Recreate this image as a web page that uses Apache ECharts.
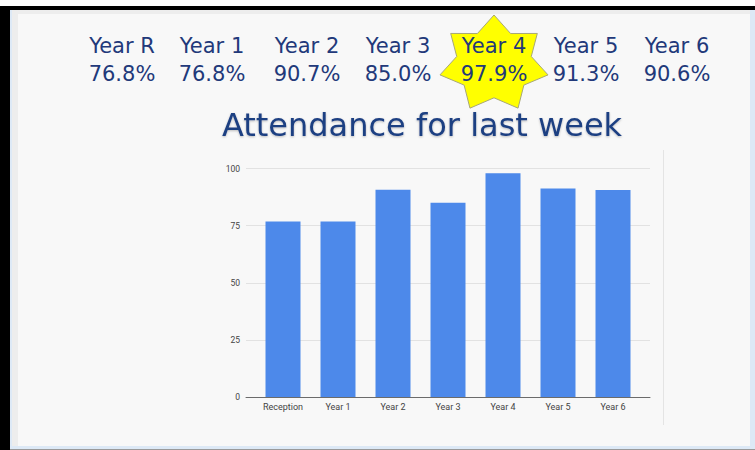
<!DOCTYPE html>
<html>
<head>
<meta charset="utf-8">
<style>
  html, body { margin: 0; padding: 0; background: #fff; }
  #chart-container { width: 755px; height: 450px; }
</style>
<script src="https://cdn.jsdelivr.net/npm/echarts@6/dist/echarts.min.js"></script>
</head>
<body>
<div id="chart-container"></div>
<script>
var categories = ["Reception", "Year 1", "Year 2", "Year 3", "Year 4", "Year 5", "Year 6"];
var headerNames = ["Year R", "Year 1", "Year 2", "Year 3", "Year 4", "Year 5", "Year 6"];
var attendance = [76.8, 76.8, 90.7, 85.0, 97.9, 91.3, 90.6];
var yTicks = [0, 25, 50, 75, 100];
var titleText = "Attendance for last week";

// header column centres across the slide
var headerX = [122, 212, 307, 398, 494, 586, 677];
var navy = "#22397a";
var headFont = '21px "DejaVu Sans"';

var dom = document.getElementById("chart-container");
var myChart = echarts.init(dom, null, { renderer: "svg" });

// 7-point star behind "Year 4"
function starPoints(cx, cy, rx, ry, inner) {
  var pts = [];
  for (var i = 0; i < 14; i++) {
    var a = -Math.PI / 2 + (i * Math.PI) / 7;
    var k = i % 2 === 0 ? 1 : inner;
    pts.push([cx + Math.cos(a) * rx * k, cy + Math.sin(a) * ry * k]);
  }
  return pts;
}

var graphics = [
  // slide frame
  { type: "rect", z: -20, shape: { x: 0, y: 6, width: 755, height: 444 }, style: { fill: "#000" } },
  { type: "rect", z: -19, shape: { x: 10, y: 10, width: 745, height: 440 }, style: { fill: "#dde9f6" } },
  { type: "rect", z: -18, shape: { x: 0, y: 449, width: 755, height: 1 }, style: { fill: "#9a9a9a" } },
  { type: "rect", z: -18, shape: { x: 0, y: 6, width: 10, height: 444 }, style: { fill: "#000" } },
  { type: "rect", z: -17, shape: { x: 12, y: 10, width: 738, height: 436 }, style: { fill: "#ededed" } },
  { type: "rect", z: -16, shape: { x: 18, y: 14, width: 732, height: 432 }, style: { fill: "#f8f8f8" } },
  // faint divider on the right of the chart
  { type: "rect", z: -15, shape: { x: 663, y: 150, width: 1, height: 275 }, style: { fill: "#e4e4e4" } },
  // star
  {
    type: "polygon", z: 5,
    shape: { points: starPoints(494, 64, 55.4, 49, 0.69) },
    style: { fill: "#ffff00", stroke: "#a8a878", lineWidth: 1 }
  },
  // title
  {
    type: "text", z: 10,
    style: {
      text: titleText, x: 422, y: 125, fill: "#1f3f82",
      font: '32px "DejaVu Sans"', textAlign: "center", textVerticalAlign: "middle",
      textShadowColor: "rgba(0,0,0,0.25)", textShadowBlur: 2, textShadowOffsetY: 1
    }
  }
];

headerNames.forEach(function (name, i) {
  graphics.push({
    type: "text", z: 10,
    style: { text: name, x: headerX[i], y: 46, fill: navy, font: headFont, textAlign: "center", textVerticalAlign: "middle" }
  });
  graphics.push({
    type: "text", z: 10,
    style: { text: attendance[i].toFixed(1) + "%", x: headerX[i], y: 74, fill: navy, font: headFont, textAlign: "center", textVerticalAlign: "middle" }
  });
});

var option = {
  animation: false,
  graphic: graphics,
  grid: [
    { left: 246, width: 404, top: 168.5, height: 228.5 },
    { left: 255.5, width: 385, top: 168.5, height: 228.5 }
  ],
  xAxis: [
    {
      gridIndex: 0, type: "category", data: [""],
      axisLine: { show: true, lineStyle: { color: "#6b6b6b", width: 1 } },
      axisTick: { show: false }, axisLabel: { show: false }
    },
    {
      gridIndex: 1, type: "category", data: categories,
      axisLine: { show: false }, axisTick: { show: false },
      axisLabel: { color: "#444", fontSize: 9, fontFamily: "Roboto", margin: 5 }
    }
  ],
  yAxis: [
    {
      gridIndex: 0, type: "value", min: yTicks[0], max: yTicks[yTicks.length - 1], interval: 25,
      axisLine: { show: false }, axisTick: { show: false },
      axisLabel: { color: "#444", fontSize: 8.5, fontFamily: "Roboto", margin: 6 },
      splitLine: { lineStyle: { color: "#e2e2e2", width: 1 } }
    },
    {
      gridIndex: 1, type: "value", min: 0, max: 100, show: false,
      splitLine: { show: false }
    }
  ],
  series: [
    {
      type: "bar", xAxisIndex: 1, yAxisIndex: 1,
      data: attendance, barWidth: 35,
      itemStyle: { color: "#4d89ea" }
    }
  ]
};

myChart.setOption(option);
window.addEventListener("resize", myChart.resize);
</script>
</body>
</html>
